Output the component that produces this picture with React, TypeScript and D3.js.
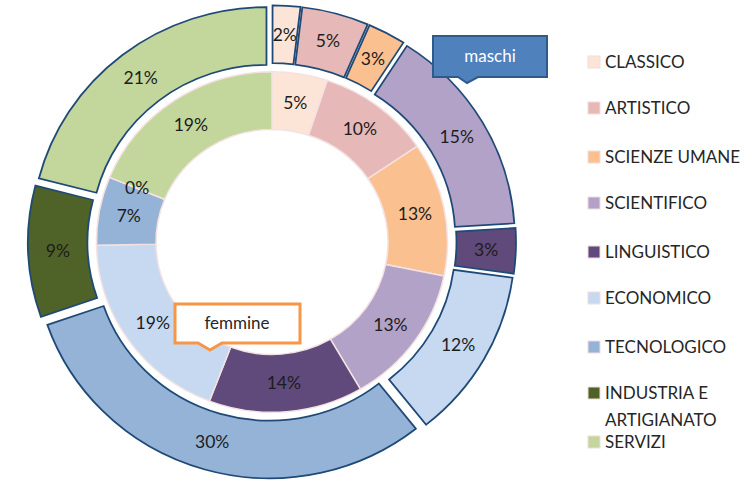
import React from "react";
import * as d3 from "d3";

const categories = [
  "CLASSICO",
  "ARTISTICO",
  "SCIENZE UMANE",
  "SCIENTIFICO",
  "LINGUISTICO",
  "ECONOMICO",
  "TECNOLOGICO",
  "INDUSTRIA E ARTIGIANATO",
  "SERVIZI",
];
// outer ring (maschi) and inner ring (femmine), percent shares
const maschi = [1.9, 4.6, 2.6, 14.9, 3.2, 12.1, 30.4, 9.3, 21.0];
const femmine = [5.1, 10.4, 12.7, 13.4, 14.2, 18.9, 6.5, 0, 18.8];
const legendLines = [
  ["CLASSICO"],
  ["ARTISTICO"],
  ["SCIENZE UMANE"],
  ["SCIENTIFICO"],
  ["LINGUISTICO"],
  ["ECONOMICO"],
  ["TECNOLOGICO"],
  ["INDUSTRIA E", "ARTIGIANATO"],
  ["SERVIZI"],
];
const colors = [
  "#fce4d6",
  "#e6b9b8",
  "#fac090",
  "#b3a2c7",
  "#604a7b",
  "#c6d9f1",
  "#95b3d7",
  "#4f6228",
  "#c3d69b",
];

const W = 756;
const H = 481;
const cx = 272;
const cy = 242;
const sy = 0.97;
const rHole = 116;
const rMid = 175.5;
const rOuter = 235;
const explode = 9;
const font = "Lato, 'Open Sans', sans-serif";

export default function App() {
  const pie = d3
    .pie<number>()
    .sort(null)
    .value((d) => d)
    .startAngle(0)
    .endAngle(2 * Math.PI);
  const innerArcs = pie(femmine);
  const outerArcs = pie(maschi);
  const innerArc = d3.arc<d3.PieArcDatum<number>>().innerRadius(rHole).outerRadius(rMid);
  const outerArc = d3.arc<d3.PieArcDatum<number>>().innerRadius(rMid).outerRadius(rOuter);

  const off = (a: d3.PieArcDatum<number>) => {
    const m = (a.startAngle + a.endAngle) / 2;
    return [explode * Math.sin(m), -explode * Math.cos(m)];
  };
  const fmt = (v: number) => Math.round(v) + "%";

  const legendY = [62, 108, 157, 203, 252, 298, 347, 393, 442];

  return (
    <svg
      width={W}
      height={H}
      style={{ position: "absolute", left: 0, top: 0, background: "#fff" }}
      fontFamily={font}
    >
      <g transform={`translate(${cx},${cy}) scale(1,${sy})`}>
        {innerArcs.map((a, i) => (
          <path
            key={"i" + i}
            d={innerArc(a) || ""}
            fill={colors[i]}
            stroke="#f4e2e2"
            strokeWidth={1.5}
          />
        ))}
        {outerArcs.map((a, i) => {
          const [dx, dy] = off(a);
          return (
            <path
              key={"o" + i}
              d={outerArc(a) || ""}
              transform={`translate(${dx},${dy})`}
              fill={colors[i]}
              stroke="#1f4a78"
              strokeWidth={1.8}
            />
          );
        })}
      </g>
      <g fontSize={17.5} fill="#1c1c1c" textAnchor="middle">
        {innerArcs.map((a, i) => {
          const [x, y] = innerArc.centroid(a);
          return (
            <text key={"ti" + i} x={cx + x} y={cy + y * sy} dy="0.35em">
              {fmt(femmine[i])}
            </text>
          );
        })}
        {outerArcs.map((a, i) => {
          const [x, y] = outerArc.centroid(a);
          const [dx, dy] = off(a);
          return (
            <text key={"to" + i} x={cx + x + dx} y={cy + (y + dy) * sy} dy="0.35em">
              {fmt(maschi[i])}
            </text>
          );
        })}
      </g>
      {/* maschi callout */}
      <path
        d="M433,36 H547 V77 H478 L467,83 L458,77 H433 Z"
        fill="#4f81bd"
        stroke="#2f5a8c"
        strokeWidth={2}
      />
      <text x={490} y={56} dy="0.35em" textAnchor="middle" fontSize={17} fill="#ffffff">
        maschi
      </text>
      {/* femmine callout */}
      <path
        d="M175,304 H300 V343 H222 L210,350 L198,343 H175 Z"
        fill="#ffffff"
        stroke="#f79646"
        strokeWidth={3}
      />
      <text x={237} y={323} dy="0.35em" textAnchor="middle" fontSize={17} fill="#262626">
        femmine
      </text>
      {/* legend */}
      <g fontSize={17} fill="#262626">
        {legendLines.map((lines, i) => (
          <g key={"l" + i}>
            <rect
              x={588}
              y={legendY[i] - 6}
              width={12}
              height={12}
              fill={colors[i]}
              stroke="#f2dcdb"
              strokeWidth={1}
            />
            {lines.map((t, j) => (
              <text key={j} x={605} y={legendY[i] + j * 27} dy="0.35em">
                {t}
              </text>
            ))}
          </g>
        ))}
      </g>
    </svg>
  );
}
